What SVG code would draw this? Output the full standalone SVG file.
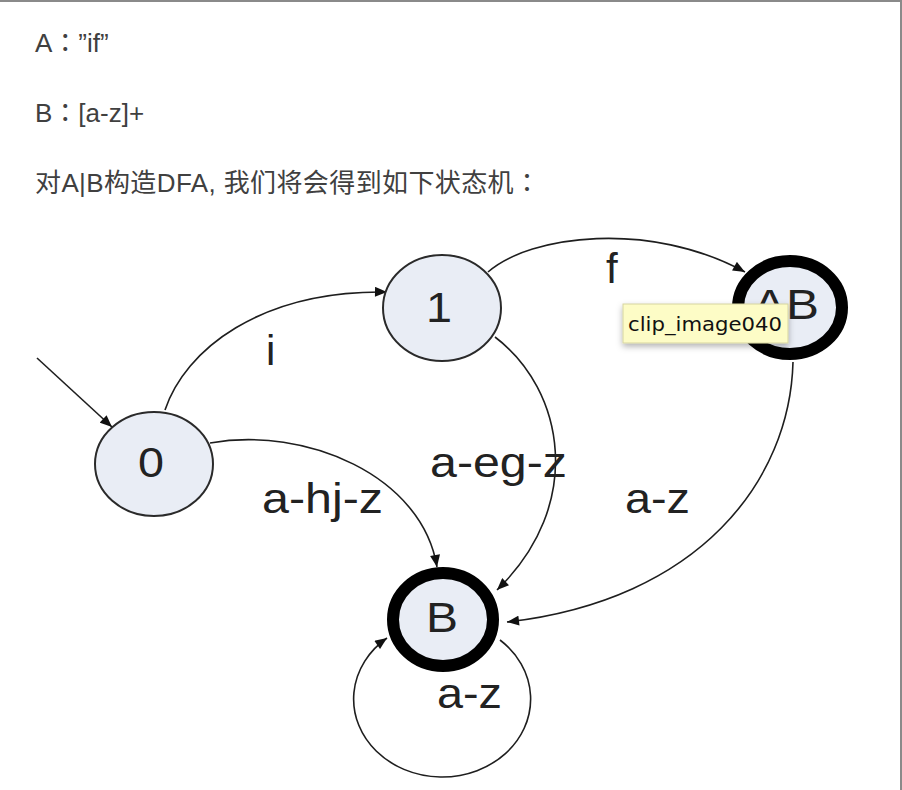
<svg xmlns="http://www.w3.org/2000/svg" width="902" height="790" viewBox="0 0 902 790">
  <defs>
    <style>
      .hdr { font-family: "Liberation Sans", "Noto Sans CJK SC", sans-serif; font-size: 26px; fill: #404040; }
      .cjkp { font-family: "Noto Sans CJK JP", sans-serif; }
      .lbl { font-family: "Liberation Sans", sans-serif; font-size: 42px; fill: #222; }
      .state { fill: #e9edf5; stroke: #2a2a2a; stroke-width: 2; }
      .final { fill: #e9edf5; stroke: #000; stroke-width: 12; }
      .edge { fill: none; stroke: #1e1e1e; stroke-width: 1.6; marker-end: url(#arrow); }
      .tip { font-family: "DejaVu Sans", sans-serif; font-size: 19px; fill: #111; }
    </style>
    <marker id="arrow" viewBox="0 0 12 10" refX="12" refY="5" markerWidth="13" markerHeight="10" markerUnits="userSpaceOnUse" orient="auto">
      <path d="M0,0 L12,5 L0,10 z" fill="#111"/>
    </marker>
    <filter id="shadow" x="-10%" y="-20%" width="120%" height="160%">
      <feDropShadow dx="0" dy="3" stdDeviation="3" flood-color="#000" flood-opacity="0.3"/>
    </filter>
  </defs>

  <rect x="0" y="0" width="902" height="790" fill="#ffffff"/>
  <line x1="0" y1="1" x2="902" y2="1" stroke="#8a8a8a" stroke-width="2"/>
  <line x1="901" y1="0" x2="901" y2="790" stroke="#8a8a8a" stroke-width="2"/>

  <g id="header">
    <text class="hdr" x="35" y="52">A<tspan class="cjkp">：</tspan>”if”</text>
    <text class="hdr" x="35" y="122">B<tspan class="cjkp">：</tspan>[a-z]+</text>
    <text class="hdr" x="35" y="192" textLength="505" lengthAdjust="spacing">对A|B构造DFA, 我们将会得到如下状态机<tspan class="cjkp">：</tspan></text>
  </g>

  <g id="connectors">
    <path id="e-start" class="edge" d="M37,358 L112,427"/>
    <path id="e-0-1" class="edge" d="M165,410 C185,350 260,290 387,292"/>
    <path id="e-1-AB" class="edge" d="M488,272 C530,235 650,220 745,272"/>
    <path id="e-1-B" class="edge" d="M495,337 C565,390 585,505 497,590"/>
    <path id="e-0-B" class="edge" d="M210,443 C305,426 422,475 437,567"/>
    <path id="e-AB-B" class="edge" d="M793,362 C790,480 700,600 507,622"/>
    <path id="e-B-B" class="edge" d="M500,640 A88.5,78 0 1 1 387,638"/>
    <text class="lbl" x="266" y="365">i</text>
    <text class="lbl" x="606" y="283">f</text>
    <text class="lbl" x="262" y="513" textLength="121" lengthAdjust="spacingAndGlyphs">a-hj-z</text>
    <text class="lbl" x="430" y="477" textLength="137" lengthAdjust="spacingAndGlyphs">a-eg-z</text>
    <text class="lbl" x="625" y="513" textLength="65" lengthAdjust="spacingAndGlyphs">a-z</text>
    <text class="lbl" x="437" y="708" textLength="65" lengthAdjust="spacingAndGlyphs">a-z</text>
  </g>

  <g id="node-0">
    <ellipse class="state" cx="154" cy="464" rx="59" ry="52"/>
    <text class="lbl" x="138" y="477" textLength="26" lengthAdjust="spacingAndGlyphs">0</text>
  </g>
  <g id="node-1">
    <ellipse class="state" cx="442" cy="308" rx="59" ry="53"/>
    <text class="lbl" x="426" y="322" textLength="26" lengthAdjust="spacingAndGlyphs">1</text>
  </g>
  <g id="node-B">
    <ellipse class="final" cx="443" cy="619.5" rx="50" ry="46.5"/>
    <text class="lbl" x="426" y="632" textLength="32" lengthAdjust="spacingAndGlyphs">B</text>
  </g>
  <g id="node-AB">
    <ellipse class="final" cx="790" cy="307.5" rx="52" ry="46.5"/>
    <text class="lbl" x="753" y="319" textLength="66" lengthAdjust="spacingAndGlyphs">AB</text>
  </g>

  <g id="tooltip">
    <rect x="623" y="304" width="165" height="39" fill="#fdfcc6" stroke="#d6d4a0" stroke-width="1" filter="url(#shadow)"/>
    <text class="tip" x="628" y="331" textLength="154" lengthAdjust="spacingAndGlyphs">clip_image040</text>
  </g>
</svg>
